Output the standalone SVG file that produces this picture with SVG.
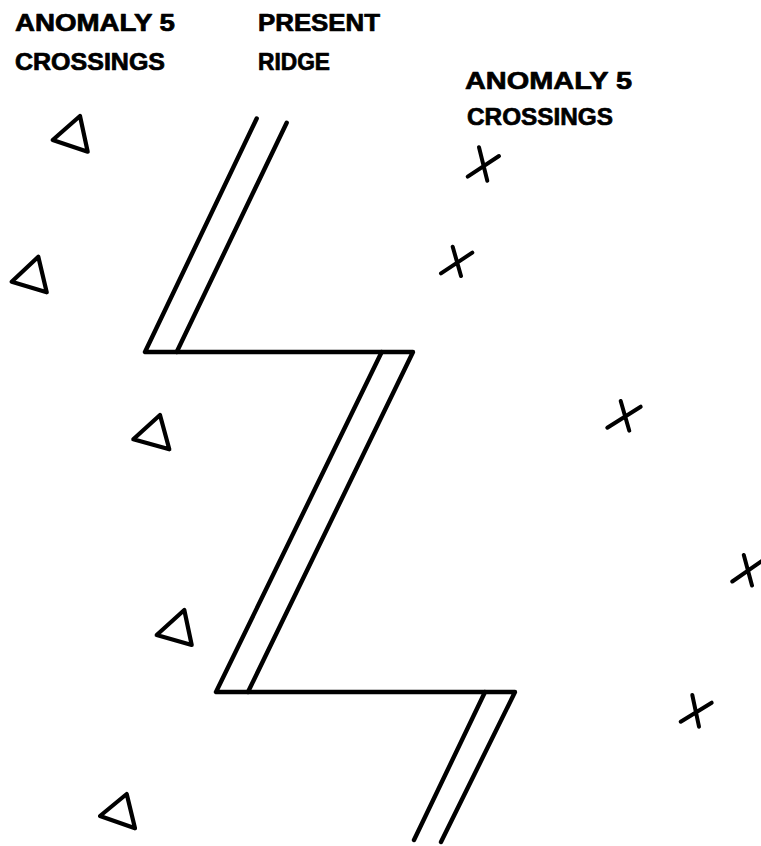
<svg xmlns="http://www.w3.org/2000/svg" width="761" height="846" viewBox="0 0 761 846">
<style>
.lbl{font-family:"Liberation Sans","Arial",sans-serif;font-weight:bold;font-size:23px;fill:#000;stroke:#000;stroke-width:0.7;stroke-linejoin:round}
.ridge{fill:none;stroke:#000;stroke-width:4.4;stroke-linecap:round;stroke-linejoin:round}
.tri{fill:none;stroke:#000;stroke-width:4.2;stroke-linejoin:round}
.x{fill:none;stroke:#000;stroke-width:4;stroke-linecap:round}
</style>
<rect width="761" height="846" fill="#fff"/>
<g id="labels">
<text class="lbl" x="15" y="31" textLength="160" lengthAdjust="spacingAndGlyphs">ANOMALY 5</text>
<text class="lbl" x="15" y="70" textLength="150" lengthAdjust="spacingAndGlyphs">CROSSINGS</text>
<text class="lbl" x="258" y="31" textLength="122" lengthAdjust="spacingAndGlyphs">PRESENT</text>
<text class="lbl" x="258" y="70" textLength="72" lengthAdjust="spacingAndGlyphs">RIDGE</text>
<text class="lbl" x="465" y="88.5" textLength="167" lengthAdjust="spacingAndGlyphs" style="font-size:24px">ANOMALY 5</text>
<text class="lbl" x="467" y="125" textLength="146" lengthAdjust="spacingAndGlyphs" style="font-size:24px">CROSSINGS</text>
</g>
<g id="ridge">
<path class="ridge" d="M256.7,118.5 L145,352 L413,352 L248,692"/>
<path class="ridge" d="M286.7,122.7 L176.7,352"/>
<path class="ridge" d="M381.7,352 L216,692 L515,692 L441,842"/>
<path class="ridge" d="M485,692 L414,840"/>
</g>
<g id="triangles">
<g id="tri1"><polygon class="tri" points="52.7,140 80,116 87.7,151.7"/></g>
<g id="tri2"><polygon class="tri" points="11.7,281.7 38.3,256.7 46.7,292.3"/></g>
<g id="tri3"><polygon class="tri" points="133.3,439.3 160,415 169.3,449.3"/></g>
<g id="tri4"><polygon class="tri" points="156.7,635 184.3,610 191.7,645"/></g>
<g id="tri5"><polygon class="tri" points="100,816 126.7,794 135,828.3"/></g>
</g>
<g id="crosses">
<g id="x1"><path class="x" d="M479,147.3 L487.3,180.7 M467.7,176.7 L499,156"/></g>
<g id="x2"><path class="x" d="M452.7,246.7 L461,276 M441,273.3 L472.3,252.7"/></g>
<g id="x3"><path class="x" d="M620.7,401 L629.3,430.7 M607.3,427.7 L640.7,406.7"/></g>
<g id="x4"><path class="x" d="M743.8,555 L752,585.5 M732.3,581.5 L762,561"/></g>
<g id="x5"><path class="x" d="M692.3,695 L699,726.7 M680.7,721.7 L711.7,702.7"/></g>
</g>
</svg>
